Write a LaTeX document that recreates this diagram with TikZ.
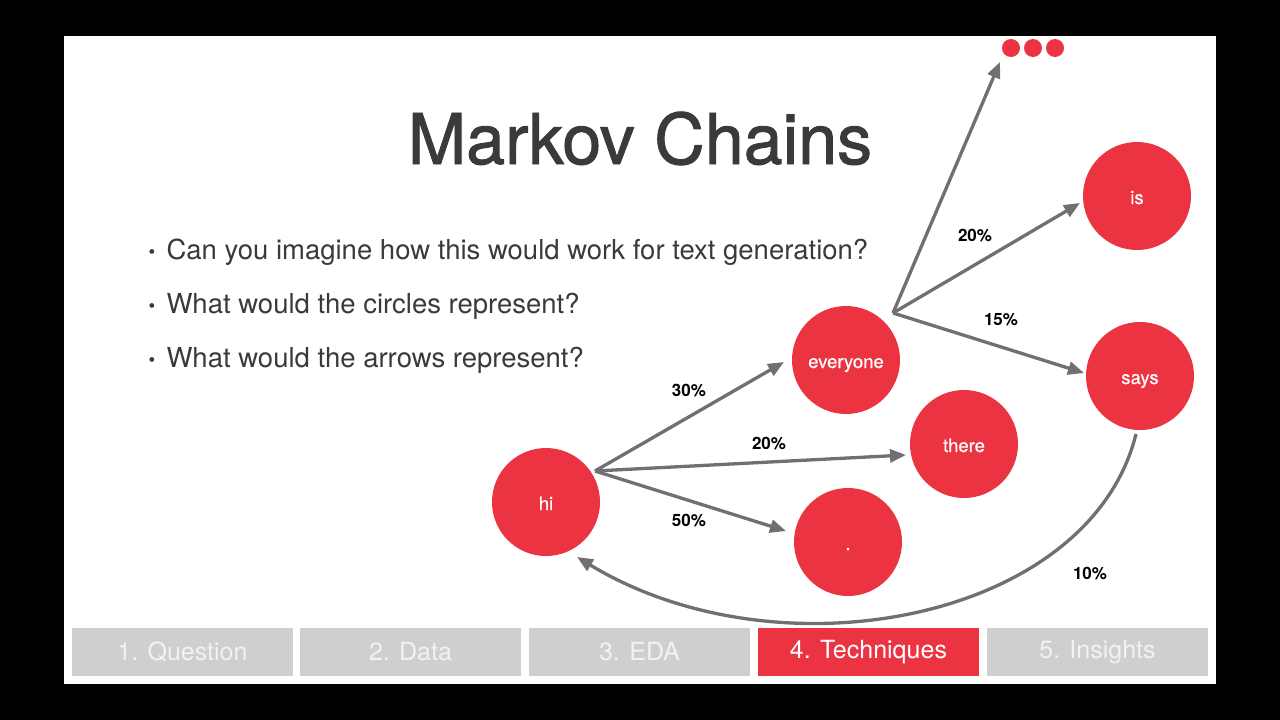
\documentclass[tikz,border=0pt]{standalone}
\usepackage{fontspec}
\setmainfont{TeX Gyre Heros}
\newfontfamily\heavyfont[FakeBold=1.3]{TeX Gyre Heros}
\newfontfamily\midfont[FakeBold=0.5]{TeX Gyre Heros}
\usetikzlibrary{arrows.meta}
\definecolor{mkred}{RGB}{236,51,66}
\definecolor{mkarrow}{RGB}{112,112,112}
\definecolor{mktext}{RGB}{58,58,58}
\definecolor{mktab}{RGB}{208,207,207}
\definecolor{mktabtext}{RGB}{242,242,242}
\tikzset{
  state/.style={circle, fill=mkred, minimum size=108pt, inner sep=0pt,
    text=white, text height=16pt, text depth=0pt,
    font=\midfont\fontsize{18.5}{20}\selectfont},
  dot/.style={circle, fill=mkred, minimum size=18pt, inner sep=0pt},
  link/.style={draw=mkarrow, line width=3.3pt,
    -{Triangle[length=16pt,width=13pt]}},
  prob/.style={font=\bfseries\fontsize{17}{19}\selectfont, text=black},
  bullet/.style={anchor=base west, text=mktext, font=\fontsize{27.5}{30}\selectfont},
  bulletdot/.style={anchor=base west, text=mktext, font=\fontsize{19}{20}\selectfont},
  tab/.style={minimum width=221pt, minimum height=48pt, inner sep=0pt,
    font=\fontsize{25}{28}\selectfont},
  plaintab/.style={tab, fill=mktab, text=mktabtext},
  activetab/.style={tab, fill=mkred, text=white}
}
\begin{document}
\begin{tikzpicture}[x=1pt,y=-1pt]
  % frame and slide
  \fill[black] (0,0) rectangle (1280,720);
  \fill[white] (64,36) rectangle (1216,684);
  \useasboundingbox (0,0) rectangle (1280,720);

  % title
  \node[anchor=base, text=mktext, font=\heavyfont\fontsize{70}{80}\selectfont] (title) at (640,164) {Markov Chains};

  % questions
  \node[bulletdot] (b1) at (145,258) {•};
  \node[bullet] (q1) at (163,259) {Can you imagine how this would work for text generation?};
  \node[bulletdot] (b2) at (145,312) {•};
  \node[bullet] (q2) at (163,313) {What would the circles represent?};
  \node[bulletdot] (b3) at (145,366) {•};
  \node[bullet] (q3) at (163,367) {What would the arrows represent?};

  % states
  \node[state] (hi) at (546,502) {hi};
  \node[state] (everyone) at (846,360) {everyone};
  \node[state] (there) at (964,444) {there};
  \node[state] (stop) at (848,542) {.};
  \node[state] (is) at (1137,196) {is};
  \node[state] (says) at (1140,376) {says};
  \node[dot] (d1) at (1011,48) {};
  \node[dot] (d2) at (1033,48) {};
  \node[dot] (d3) at (1055,48) {};

  % arrow anchors
  \coordinate (hiout) at (595,471);
  \coordinate (evout) at (893,313);
  \coordinate (toev) at (784,362);
  \coordinate (tothere) at (906,455);
  \coordinate (tostop) at (786,531);
  \coordinate (tomore) at (1000,62);
  \coordinate (tois) at (1080,203);
  \coordinate (tosays) at (1084,373);
  \coordinate (saysout) at (1136,434);
  \coordinate (tohi) at (577,557);

  % transitions
  \draw[link] (hiout) -- (toev);
  \draw[link] (hiout) -- (tothere);
  \draw[link] (hiout) -- (tostop);
  \draw[link] (evout) -- (tomore);
  \draw[link] (evout) -- (tois);
  \draw[link] (evout) -- (tosays);
  \draw[link] (saysout) .. controls (1090,620) and (780,680) .. (tohi);

  % probabilities
  \node[prob] (p1) at (689,391) {30\%};
  \node[prob] (p2) at (769,444) {20\%};
  \node[prob] (p3) at (689,521) {50\%};
  \node[prob] (p4) at (975,236) {20\%};
  \node[prob] (p5) at (1001,320) {15\%};
  \node[prob] (p6) at (1090,574) {10\%};

  % step tabs
  \node[plaintab] (t1) at (182.5,652) {1. Question};
  \node[plaintab] (t2) at (410.5,652) {2. Data};
  \node[plaintab] (t3) at (639.5,652) {3. EDA};
  \node[activetab] (t4) at (868.5,652) {4. Techniques};
  \node[plaintab] (t5) at (1097.5,652) {5. Insights};
\end{tikzpicture}
\end{document}
